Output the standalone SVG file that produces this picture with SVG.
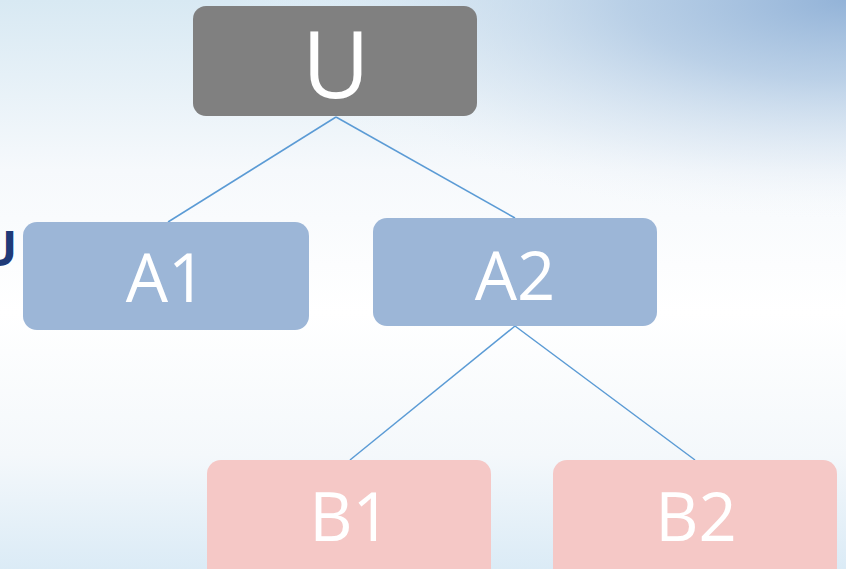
<svg xmlns="http://www.w3.org/2000/svg" width="846" height="569" viewBox="0 0 846 569">
<defs>
<linearGradient id="bg" x1="0" y1="0" x2="0" y2="1">
<stop offset="0" stop-color="#d8e9f3"/>
<stop offset="0.3" stop-color="#f6f9fc"/>
<stop offset="0.55" stop-color="#ffffff"/>
<stop offset="0.8" stop-color="#f4f8fb"/>
<stop offset="1" stop-color="#dbebf6"/>
</linearGradient>
<radialGradient id="tr" cx="846" cy="0" r="1" gradientUnits="userSpaceOnUse" gradientTransform="translate(846 0) scale(620 230) translate(-846 0)">
<stop offset="0" stop-color="#93b3d8" stop-opacity="1"/>
<stop offset="0.35" stop-color="#adc6e2" stop-opacity="0.75"/>
<stop offset="0.7" stop-color="#d2e0ef" stop-opacity="0.35"/>
<stop offset="1" stop-color="#ffffff" stop-opacity="0"/>
</radialGradient>
<style>
.lbl{font-family:"Open Sans","Noto Sans","Liberation Sans",sans-serif;fill:#ffffff;text-anchor:middle}
.big{font-size:93px}
.mid{font-size:67px}
.gA{fill:#9cb6d7}
.gB{fill:#f5c8c6}
.edge{stroke:#5b9bd5;stroke-width:1.5;fill:none}
</style>
</defs>
<rect width="846" height="569" fill="url(#bg)"/>
<rect width="846" height="569" fill="url(#tr)"/>
<text x="-19" y="266" font-family="Open Sans, Liberation Sans, sans-serif" font-weight="bold" font-size="48" fill="#1f3a78">U</text>
<g id="connectors">
<line class="edge" x1="336" y1="117" x2="168" y2="222"/>
<line class="edge" x1="336" y1="117" x2="515" y2="218"/>
<line class="edge" x1="515" y1="326" x2="350" y2="460"/>
<line class="edge" x1="515" y1="326" x2="695" y2="460"/>
</g>
<g id="U">
<rect x="193" y="6" width="284" height="110" rx="13" fill="#808080"/>
<text class="lbl big" x="336" y="98">U</text>
</g>
<g id="A1">
<rect class="gA" x="23" y="222" width="286" height="108" rx="14"/>
<text class="lbl mid" x="166" y="302">A1</text>
</g>
<g id="A2">
<rect class="gA" x="373" y="218" width="284" height="108" rx="14"/>
<text class="lbl mid" x="515" y="300">A2</text>
</g>
<g id="B1">
<rect class="gB" x="207" y="460" width="284" height="125" rx="14"/>
<text class="lbl mid" x="350" y="541">B1</text>
</g>
<g id="B2">
<rect class="gB" x="553" y="460" width="284" height="125" rx="14"/>
<text class="lbl mid" x="696" y="541">B2</text>
</g>
</svg>
